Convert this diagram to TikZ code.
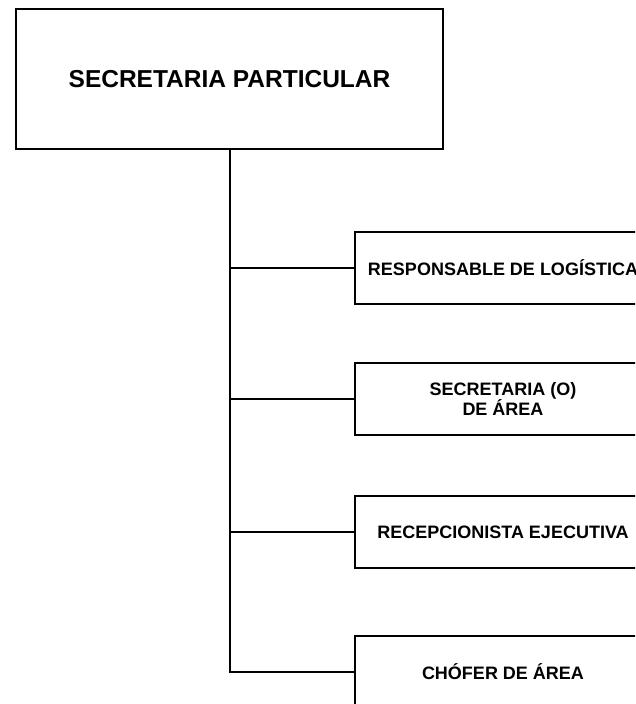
\documentclass[tikz,border=0pt]{standalone}
\usepackage{fontspec}
\setmainfont{Liberation Sans}
\usetikzlibrary{positioning}

\begin{document}
\begin{tikzpicture}[
    x=1pt,y=-1pt,
    node distance=57pt,
    every node/.style={font=\bfseries\fontsize{18}{18}\selectfont,align=center},
    headbox/.style={draw,line width=2pt,minimum width=427pt,minimum height=140pt,
                    font=\bfseries\fontsize{24.5}{26}\selectfont},
    unitbox/.style={draw,line width=2pt,minimum width=296pt,minimum height=72pt,inner sep=0pt},
    link/.style={line width=2pt}
]
\useasboundingbox (0,0) rectangle (635,704);
\clip (0,0) rectangle (635,704);
\fill[white] (0,0) rectangle (635,704);

\node[headbox] (particular) at (229.5,79) {SECRETARIA PARTICULAR};

\node[unitbox] (logistica) at (503,268) {RESPONSABLE DE LOGÍSTICA};
\node[unitbox,below=57pt of logistica] (secretaria) {SECRETARIA (O)\\DE ÁREA};
\node[unitbox,below=59pt of secretaria] (recepcion) {RECEPCIONISTA EJECUTIVA};
\node[unitbox,below=66pt of recepcion] (chofer) {CHÓFER DE ÁREA};

\draw[link] (particular.south) |- (logistica.west);
\draw[link] (particular.south) |- (secretaria.west);
\draw[link] (particular.south) |- (recepcion.west);
\draw[link] (particular.south) |- (chofer.west);
\end{tikzpicture}
\end{document}
